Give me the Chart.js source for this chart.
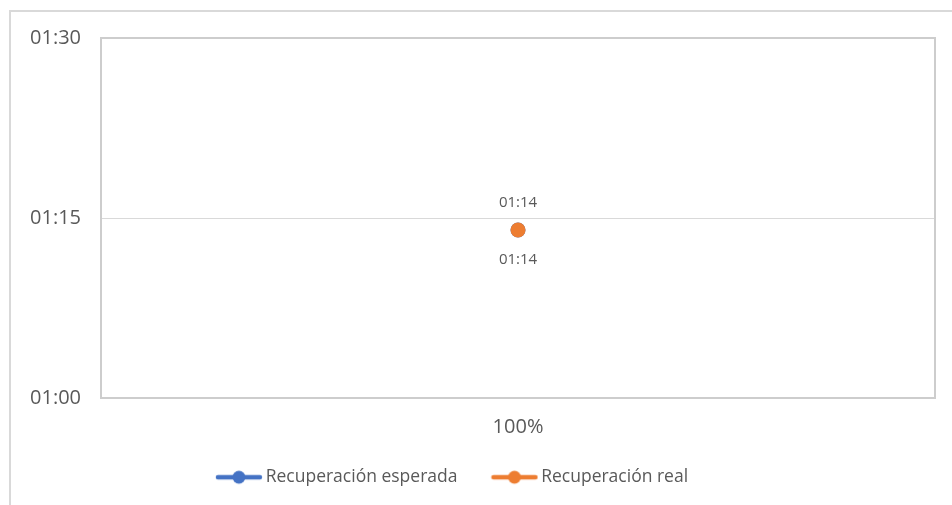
<!DOCTYPE html>
<html>
<head>
<meta charset="utf-8">
<script src="https://cdn.jsdelivr.net/npm/chart.js@4/dist/chart.umd.min.js"></script>
<style>
  html, body { margin: 0; padding: 0; background: #ffffff; }
  #wrap { width: 952px; height: 505px; position: relative; }
</style>
</head>
<body>
<div id="wrap"><canvas id="c" width="952" height="505"></canvas></div>
<script>
// ---- data ----
const categories = ['100%'];
const seriesNames = ['Recuperación esperada', 'Recuperación real'];
const esperada = ['01:14'];
const real = ['01:14'];
const yTickLabels = ['01:00', '01:15', '01:30'];
const colors = ['#4472C4', '#ED7D31'];

function toMinutes(s) { const p = s.split(':'); return parseInt(p[0], 10) * 60 + parseInt(p[1], 10); }
const yMin = toMinutes(yTickLabels[0]);
const yMax = toMinutes(yTickLabels[yTickLabels.length - 1]);
const yStep = toMinutes(yTickLabels[1]) - yMin;

const FONT = "'Open Sans', 'Noto Sans', sans-serif";
const TXT = '#595959';

function makeMarker(color) {
  const c = document.createElement('canvas');
  c.width = 48; c.height = 16;
  const g = c.getContext('2d');
  g.strokeStyle = color; g.lineWidth = 4.5; g.lineCap = 'round';
  g.beginPath(); g.moveTo(3, 8); g.lineTo(45, 8); g.stroke();
  g.fillStyle = color;
  g.beginPath(); g.arc(24, 8, 6.5, 0, Math.PI * 2); g.fill();
  return c;
}
const markers = colors.map(makeMarker);

const framePlugin = {
  id: 'frame',
  afterLayout(chart) {
    // legend placed the way the spreadsheet draws it
    const lg = chart.legend;
    lg.right = lg.right - 26;
    lg.top -= 9; lg.bottom -= 9;
  },
  beforeDraw(chart) {
    const ctx = chart.ctx;
    ctx.save();
    ctx.strokeStyle = '#d9d9d9';
    ctx.lineWidth = 2;
    ctx.beginPath();
    ctx.moveTo(10, 505); ctx.lineTo(10, 11); ctx.lineTo(952, 11);
    ctx.stroke();
    ctx.restore();
  },
  afterDraw(chart) {
    const a = chart.chartArea;
    const ctx = chart.ctx;
    ctx.save();
    ctx.strokeStyle = '#cdcdcd';
    ctx.lineWidth = 2;
    ctx.strokeRect(a.left, a.top, a.right - a.left, a.bottom - a.top);
    ctx.restore();
  }
};

const labelPlugin = {
  id: 'valueLabels',
  afterDatasetsDraw(chart) {
    const ctx = chart.ctx;
    ctx.save();
    ctx.font = '15px ' + FONT;
    ctx.fillStyle = TXT;
    ctx.textAlign = 'center';
    ctx.textBaseline = 'middle';
    chart.data.datasets.forEach((ds, di) => {
      const meta = chart.getDatasetMeta(di);
      meta.data.forEach((pt, i) => {
        const txt = ds.rawLabels[i];
        const dy = di === 0 ? -27 : 30;
        ctx.fillText(txt, pt.x, pt.y + dy);
      });
    });
    ctx.restore();
  }
};

new Chart(document.getElementById('c'), {
  type: 'line',
  data: {
    labels: categories,
    datasets: [
      {
        label: seriesNames[0],
        data: esperada.map(toMinutes),
        rawLabels: esperada,
        order: 1,
        borderColor: colors[0], backgroundColor: colors[0],
        pointBackgroundColor: colors[0], pointBorderWidth: 0,
        pointRadius: 7.5, borderWidth: 4.5
      },
      {
        label: seriesNames[1],
        data: real.map(toMinutes),
        rawLabels: real,
        order: 0,
        borderColor: colors[1], backgroundColor: colors[1],
        pointBackgroundColor: colors[1], pointBorderWidth: 0,
        pointRadius: 7.5, borderWidth: 4.5
      }
    ]
  },
  options: {
    responsive: false,
    animation: false,
    events: [],
    layout: { padding: { top: 38, left: 0, right: 17, bottom: 0 } },
    scales: {
      x: {
        type: 'category',
        offset: true,
        grid: { display: false, drawTicks: false },
        border: { display: false },
        ticks: { color: TXT, font: { family: FONT, size: 20 }, padding: 17, maxRotation: 0 },
        afterFit(s) { s.height = 40.5; }
      },
      y: {
        min: yMin, max: yMax,
        grid: { color: '#d9d9d9', lineWidth: 1, drawTicks: false },
        border: { display: false },
        ticks: {
          stepSize: yStep,
          color: TXT,
          font: { family: FONT, size: 20 },
          padding: 20,
          callback: (v, i) => yTickLabels[i]
        },
        afterFit(s) { s.width = 101; }
      }
    },
    plugins: {
      tooltip: { enabled: false },
      legend: {
        position: 'bottom',
        labels: {
          usePointStyle: true,
          pointStyleWidth: 36,
          padding: 39,
          color: TXT,
          font: { family: FONT, size: 17.5 },
          generateLabels(chart) {
            const items = Chart.defaults.plugins.legend.labels.generateLabels(chart);
            items.sort((a, b) => a.datasetIndex - b.datasetIndex);
            items.forEach((it) => { it.pointStyle = markers[it.datasetIndex]; it.rotation = 0; });
            return items;
          }
        }
      }
    }
  },
  plugins: [framePlugin, labelPlugin]
});
</script>
</body>
</html>
